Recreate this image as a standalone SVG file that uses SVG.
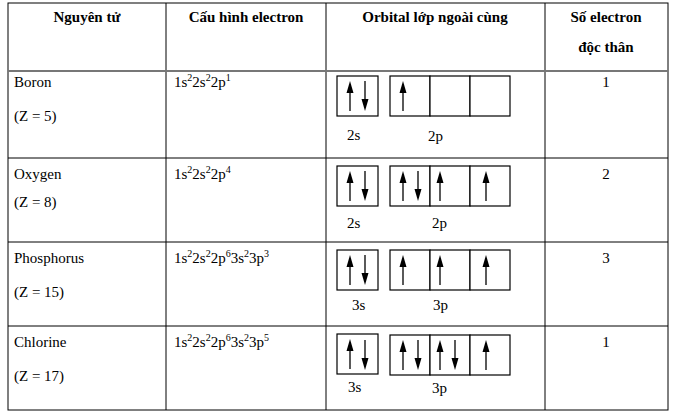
<svg xmlns="http://www.w3.org/2000/svg" width="675" height="414" viewBox="0 0 675 414">
<style>
text{font-family:Liberation Serif,Tinos,DejaVu Serif,serif;font-size:15px;fill:#000}
.h{font-weight:bold}
.g{stroke:#000;stroke-width:1;fill:none}
.b{fill:#fff;stroke:#000;stroke-width:1.2}
.a{stroke:#000;stroke-width:1.3;fill:none}
</style>
<defs>
<g id="up"><line class="a" x1="0" y1="15" x2="0" y2="-6"/><path d="M-3.5,-3 L0,-15 L3.5,-3 Z" fill="#000"/></g>
<g id="dn"><line class="a" x1="0" y1="-15" x2="0" y2="6"/><path d="M-3.5,3 L0,15 L3.5,3 Z" fill="#000"/></g>
</defs>
<rect width="675" height="414" fill="#fff"/>
<g id="grid" class="g">
<rect x="8" y="3" width="660" height="407"/>
<line x1="166" y1="3" x2="166" y2="410"/>
<line x1="326" y1="3" x2="326" y2="410"/>
<line x1="545" y1="3" x2="545" y2="410"/>
<line x1="8" y1="71" x2="668" y2="71" stroke="#777" stroke-width="2"/>
<line x1="8" y1="158" x2="668" y2="158"/>
<line x1="8" y1="242" x2="668" y2="242"/>
<line x1="8" y1="326" x2="668" y2="326"/>
</g>
<g id="header">
<text class="h" x="87" y="22" text-anchor="middle" font-family="Liberation Serif, serif">Nguyên tử</text>
<text class="h" x="246" y="22" text-anchor="middle">Cấu hình electron</text>
<text class="h" x="435" y="22" text-anchor="middle">Orbital lớp ngoài cùng</text>
<text class="h" x="606" y="22" text-anchor="middle">Số electron</text>
<text class="h" x="606" y="52" text-anchor="middle">độc thân</text>
</g>
<g id="row1">
<text x="14" y="87">Boron</text><text x="14" y="121">(Z = 5)</text>
<text x="174" y="87">1s<tspan dy="-6" font-size="10">2</tspan><tspan dy="6">2s</tspan><tspan dy="-6" font-size="10">2</tspan><tspan dy="6">2p</tspan><tspan dy="-6" font-size="10">1</tspan></text>
<rect class="b" x="337" y="76" width="41" height="40"/>
<rect class="b" x="390" y="76" width="40" height="40"/><rect class="b" x="430" y="76" width="40" height="40"/><rect class="b" x="470" y="76" width="40" height="40"/>
<use href="#up" x="350" y="96"/><use href="#dn" x="365" y="96"/><use href="#up" x="403" y="96"/>
<text x="347" y="140">2s</text><text x="428" y="141">2p</text>
<text x="606" y="87" text-anchor="middle">1</text>
</g>
<g id="row2">
<text x="14" y="179">Oxygen</text><text x="14" y="207">(Z = 8)</text>
<text x="174" y="179">1s<tspan dy="-6" font-size="10">2</tspan><tspan dy="6">2s</tspan><tspan dy="-6" font-size="10">2</tspan><tspan dy="6">2p</tspan><tspan dy="-6" font-size="10">4</tspan></text>
<rect class="b" x="337" y="166" width="41" height="40"/>
<rect class="b" x="390" y="166" width="40" height="40"/><rect class="b" x="430" y="166" width="40" height="40"/><rect class="b" x="470" y="166" width="40" height="40"/>
<use href="#up" x="350" y="186"/><use href="#dn" x="365" y="186"/>
<use href="#up" x="403" y="186"/><use href="#dn" x="418" y="186"/><use href="#up" x="440" y="186"/><use href="#up" x="486" y="186"/>
<text x="347" y="228">2s</text><text x="432" y="228">2p</text>
<text x="606" y="179" text-anchor="middle">2</text>
</g>
<g id="row3">
<text x="14" y="263">Phosphorus</text><text x="14" y="297">(Z = 15)</text>
<text x="174" y="263">1s<tspan dy="-6" font-size="10">2</tspan><tspan dy="6">2s</tspan><tspan dy="-6" font-size="10">2</tspan><tspan dy="6">2p</tspan><tspan dy="-6" font-size="10">6</tspan><tspan dy="6">3s</tspan><tspan dy="-6" font-size="10">2</tspan><tspan dy="6">3p</tspan><tspan dy="-6" font-size="10">3</tspan></text>
<rect class="b" x="337" y="250" width="41" height="40"/>
<rect class="b" x="390" y="250" width="40" height="40"/><rect class="b" x="430" y="250" width="40" height="40"/><rect class="b" x="470" y="250" width="40" height="40"/>
<use href="#up" x="350" y="270"/><use href="#dn" x="365" y="270"/>
<use href="#up" x="403" y="270"/><use href="#up" x="440" y="270"/><use href="#up" x="486" y="270"/>
<text x="352" y="310">3s</text><text x="433" y="310">3p</text>
<text x="606" y="263" text-anchor="middle">3</text>
</g>
<g id="row4">
<text x="14" y="347">Chlorine</text><text x="14" y="381">(Z = 17)</text>
<text x="174" y="347">1s<tspan dy="-6" font-size="10">2</tspan><tspan dy="6">2s</tspan><tspan dy="-6" font-size="10">2</tspan><tspan dy="6">2p</tspan><tspan dy="-6" font-size="10">6</tspan><tspan dy="6">3s</tspan><tspan dy="-6" font-size="10">2</tspan><tspan dy="6">3p</tspan><tspan dy="-6" font-size="10">5</tspan></text>
<rect class="b" x="337" y="334" width="41" height="40"/>
<rect class="b" x="390" y="335" width="40" height="40"/><rect class="b" x="430" y="335" width="40" height="40"/><rect class="b" x="470" y="335" width="40" height="40"/>
<use href="#up" x="350" y="354"/><use href="#dn" x="365" y="355"/>
<use href="#up" x="403" y="355"/><use href="#dn" x="418" y="355"/><use href="#up" x="440" y="355"/><use href="#dn" x="455" y="355"/><use href="#up" x="486" y="355"/>
<text x="348" y="392">3s</text><text x="432" y="393">3p</text>
<text x="606" y="347" text-anchor="middle">1</text>
</g>
</svg>
